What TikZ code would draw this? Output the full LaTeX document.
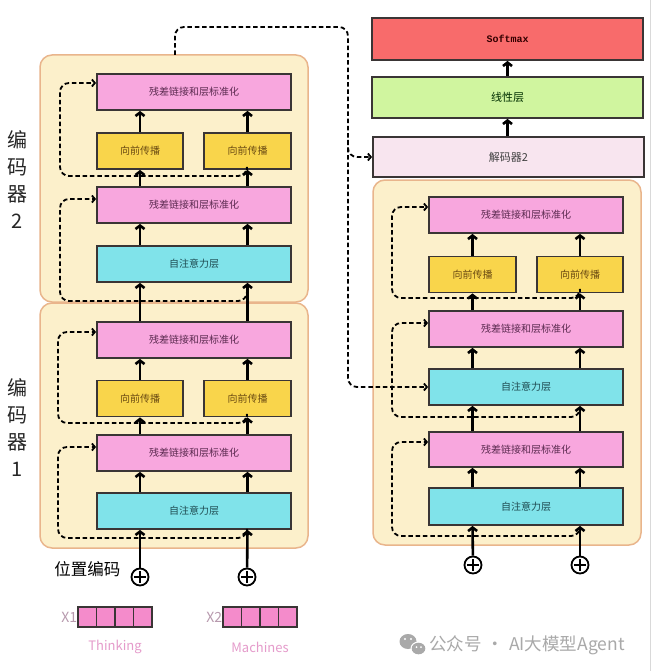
\documentclass[tikz,border=0pt]{standalone}
\usepackage{fontspec}
\setmainfont{Noto Sans CJK SC}
\setmonofont{Liberation Mono}
\usetikzlibrary{arrows.meta}

\definecolor{cream}{HTML}{FCF0CB}
\definecolor{creamline}{HTML}{E9B58C}
\definecolor{pinkfill}{HTML}{F8A7DE}
\definecolor{yellowfill}{HTML}{F9D54B}
\definecolor{cyanfill}{HTML}{80E3EA}
\definecolor{redfill}{HTML}{F86B6B}
\definecolor{greenfill}{HTML}{D0F59F}
\definecolor{decfill}{HTML}{F8E5EF}
\definecolor{boxline}{HTML}{3A3535}
\definecolor{pinktext}{HTML}{5B2A50}
\definecolor{yellowtext}{HTML}{6A4A12}
\definecolor{cyantext}{HTML}{1F4C52}
\definecolor{tokenpink}{HTML}{F48BCB}
\definecolor{wordpink}{HTML}{E59BCB}
\definecolor{xgray}{HTML}{B89AAE}
\definecolor{markgray}{HTML}{A9A9A9}

\begin{document}
\begin{tikzpicture}[x=1pt,y=-1pt,
  box/.style={draw=boxline, line width=1.8pt, inner sep=0pt, minimum height=36pt,
              font=\fontsize{10}{12}\selectfont},
  wide/.style={box, minimum width=194pt},
  half/.style={box, minimum width=86pt},
  norm/.style={wide, fill=pinkfill, text=pinktext},
  ffn/.style={half, fill=yellowfill, text=yellowtext},
  attn/.style={wide, fill=cyanfill, text=cyantext},
  group/.style={draw=creamline, line width=1.5pt, fill=cream, rounded corners=12pt},
  flow/.style={line width=2.6pt, -{Straight Barb[length=3.5pt,width=9pt]}},
  skip/.style={line width=1.8pt, dash pattern=on 4.5pt off 2.8pt, rounded corners=9pt,
               -{Straight Barb[length=3pt,width=7pt]}},
  adder/.style={circle, draw=black, line width=1.8pt, minimum size=17pt, inner sep=0pt,
                path picture={
                  \draw[line width=1.8pt]
                    ([yshift=6pt]path picture bounding box.center) -- ([yshift=-6pt]path picture bounding box.center)
                    ([xshift=-6pt]path picture bounding box.center) -- ([xshift=6pt]path picture bounding box.center);}},
  cell/.style={draw=boxline, line width=1.3pt, fill=tokenpink, minimum width=18.5pt, minimum height=20pt, inner sep=0pt},
  side/.style={font=\fontsize{20}{27}\selectfont, align=center, text=black!85}
]
\useasboundingbox (0,0) rectangle (652,671);
\fill[white] (0,0) rectangle (652,671);
\draw[black!15, line width=0.8pt] (650.5,0) -- (650.5,671);

% ---------- encoder stacks ----------
\draw[group] (40,55) rectangle (308,302);
\draw[group] (40,303) rectangle (308,548);

\node[side] (lab2) at (17,180) {编\\码\\器\\2};
\node[side] (lab1) at (17,428) {编\\码\\器\\1};

% encoder 2
\node[norm] (e2n1) at (194,92) {残差链接和层标准化};
\node[ffn]  (e2f1) at (140,151) {向前传播};
\node[ffn, minimum width=87pt]  (e2f2) at (247.5,151) {向前传播};
\node[norm] (e2n2) at (194,205) {残差链接和层标准化};
\node[attn] (e2a)  at (194,264) {自注意力层};

% encoder 1
\node[norm] (e1n1) at (194,340) {残差链接和层标准化};
\node[ffn]  (e1f1) at (140,398.5) {向前传播};
\node[ffn, minimum width=87pt]  (e1f2) at (247.5,398.5) {向前传播};
\node[norm] (e1n2) at (194,453) {残差链接和层标准化};
\node[attn] (e1a)  at (194,511) {自注意力层};

% inputs
\node[adder] (pa) at (140,577) {};
\node[adder] (pb) at (247,577) {};
\node[font=\fontsize{16.5}{18}\selectfont, anchor=east] (pos) at (124,569) {位置编码};

\foreach \i in {0,1,2,3} {
  \node[cell] (xa\i) at ({87.25+18.5*\i},617) {};
  \node[cell] (xb\i) at ({232.25+18.5*\i},617) {};
}
\node[font=\fontsize{14}{16}\selectfont, text=xgray, anchor=east, inner sep=0pt] (x1) at (xa0.west) {X1};
\node[font=\fontsize{14}{16}\selectfont, text=xgray, anchor=east, inner sep=0pt] (x2) at (xb0.west) {X2};
\node[font=\fontsize{13}{15}\selectfont, text=wordpink] (w1) at (115,647) {Thinking};
\node[font=\fontsize{13}{15}\selectfont, text=wordpink] (w2) at (260,647) {Machines};

% main flow, encoder side
\draw[flow] (pa) -- (e1a.south -| e1f1);
\draw[flow] (pb) -- (e1a.south -| e1f2);
\foreach \c in {e1f1,e1f2} {
  \draw[flow] (e1a.north -| \c) -- (e1n2.south -| \c);
  \draw[flow] (e1n2.north -| \c) -- (\c.south);
  \draw[flow] (\c.north) -- (e1n1.south -| \c);
  \draw[flow] (e1n1.north -| \c) -- (e2a.south -| \c);
}
\foreach \c in {e2f1,e2f2} {
  \draw[flow] (e2a.north -| \c) -- (e2n2.south -| \c);
  \draw[flow] (e2n2.north -| \c) -- (\c.south);
  \draw[flow] (\c.north) -- (e2n1.south -| \c);
}

% residual shortcuts, encoder side
\draw[skip] (247,170) -- (247,176) -- (60,176) -- (60,83) -- ([yshift=9pt]e2n1.west);
\draw[skip] (247,295) -- (247,301) -- (60,301) -- (60,199) -- ([yshift=6pt]e2n2.west);
\draw[skip] (247,417) -- (247,423) -- (58,423) -- (58,332) -- ([yshift=8pt]e1n1.west);
\draw[skip] (247,532) -- (247,538) -- (58,538) -- (58,447) -- ([yshift=6pt]e1n2.west);

% ---------- decoder stack ----------
\draw[group] (373,180) rectangle (641,545);

\node[norm] (dn1) at (526,215) {残差链接和层标准化};
\node[ffn, minimum width=87pt] (df1) at (472.5,274.5) {向前传播};
\node[ffn]  (df2) at (580,274.5) {向前传播};
\node[norm] (dn2) at (526,329) {残差链接和层标准化};
\node[attn] (da1) at (526,387) {自注意力层};
\node[norm, minimum height=35pt] (dn3) at (526,449.5) {残差链接和层标准化};
\node[attn, minimum height=37pt] (da2) at (526,506.5) {自注意力层};

\node[adder] (pc) at (473,565) {};
\node[adder] (pd) at (580,565) {};

\draw[flow] (pc) -- (da2.south -| df1);
\draw[flow] (pd) -- (da2.south -| df2);
\foreach \c in {df1,df2} {
  \draw[flow] (da2.north -| \c) -- (dn3.south -| \c);
  \draw[flow] (dn3.north -| \c) -- (da1.south -| \c);
  \draw[flow] (da1.north -| \c) -- (dn2.south -| \c);
  \draw[flow] (dn2.north -| \c) -- (\c.south);
  \draw[flow] (\c.north) -- (dn1.south -| \c);
}

\draw[skip] (580,292) -- (580,298) -- (392,298) -- (392,207) -- ([yshift=8pt]dn1.west);
\draw[skip] (580,411) -- (580,417) -- (392,417) -- (392,323) -- ([yshift=6pt]dn2.west);
\draw[skip] (580,530) -- (580,536) -- (392,536) -- (392,442) -- ([yshift=7.5pt]dn3.west);

% ---------- output head ----------
\node[box, fill=redfill, minimum width=271pt, minimum height=42pt, text=black!80!red,
      font=\ttfamily\bfseries\fontsize{10}{12}\selectfont] (soft) at (507.5,39) {Softmax};
\node[box, fill=greenfill, minimum width=271pt, minimum height=41pt, text=black!70!green!60!black,
      font=\fontsize{11}{13}\selectfont] (lin) at (507.5,97.5) {线性层};
\node[box, fill=decfill, minimum width=271pt, minimum height=40pt, text=black!75,
      font=\fontsize{11}{13}\selectfont] (dec) at (508.5,157) {解码器2};

\draw[flow] (dec.north -| soft) -- (lin.south -| soft);
\draw[flow] (lin.north -| soft) -- (soft.south);

% encoder output feeding the decoder
\coordinate (encout) at (175,55);
\draw[skip] (encout) -- (175,27) -- (348,27) -- (348,387) -- (da1.west);
\draw[skip] (348,140) -- (348,157) -- (dec.west);

% ---------- account mark ----------
\begin{scope}
  \fill[markgray] (408,641.5) ellipse (8.5pt and 7.5pt);
  \fill[white] (418.5,648.5) ellipse (8pt and 7pt);
  \fill[markgray] (418.5,648.5) ellipse (6.8pt and 5.8pt);
  \fill[white] (405,639) circle (1.2pt) (411,639) circle (1.2pt);
  \fill[white] (416.5,647) circle (1pt) (421,647) circle (1pt);
\end{scope}
\node[font=\fontsize{17.5}{19}\selectfont, text=markgray, anchor=west, inner sep=0pt] (mark) at (429,645) {公众号\kern5pt·\kern5pt AI大模型Agent};
\end{tikzpicture}
\end{document}
